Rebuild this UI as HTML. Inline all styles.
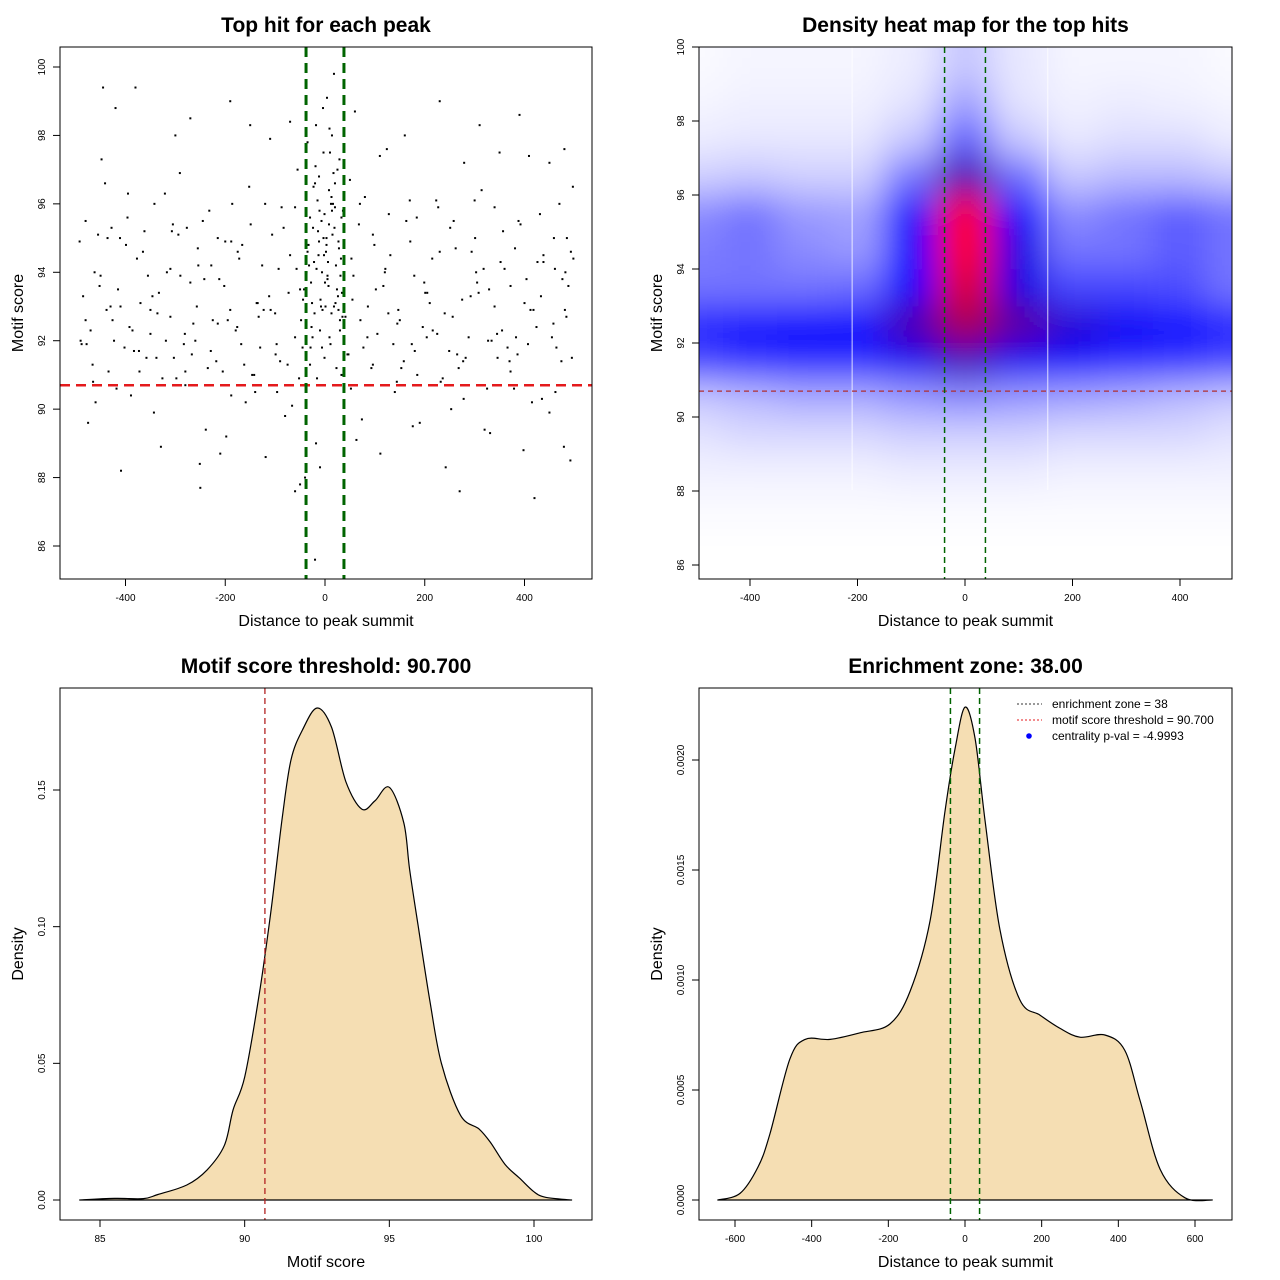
<!DOCTYPE html>
<html><head><meta charset="utf-8"><style>
html,body{margin:0;padding:0;background:#fff;}
svg{display:block;font-family:"Liberation Sans",sans-serif;}
</style></head><body>
<svg id="root" width="1280" height="1280" viewBox="0 0 1280 1280" xmlns="http://www.w3.org/2000/svg">
<defs>
<filter id="blur" x="-20%" y="-20%" width="140%" height="140%"><feGaussianBlur stdDeviation="17"/></filter>
<clipPath id="clip2"><rect x="699" y="47" width="533" height="532"/></clipPath>
</defs>
</svg>
<script>
// ---------- DATA ----------
const scatterX = [-480,-455,-430,-402,-377,-350,-321,-298,-270,-245,-218,-190,-166,-140,-112,-87,-60,-35,-12,5,
22,41,68,93,117,144,171,196,223,249,275,301,327,352,379,404,431,458,482,495,
-492,-466,-441,-415,-389,-362,-336,-310,-283,-257,-232,-205,-179,-152,-126,-99,-73,-48,-24,-3,
14,33,57,80,105,131,158,184,210,236,262,288,314,340,366,392,418,444,470,488,
-475,-448,-423,-396,-370,-343,-317,-291,-264,-239,-212,-186,-159,-133,-106,-80,-55,-30,-8,9,
27,50,74,99,124,150,176,201,227,253,279,305,331,357,383,409,435,461,479,497,
-30,-22,-15,-9,-3,2,8,13,19,25,31,36,-27,-18,-6,4,11,17,28,34,
-35,-25,-12,-1,7,15,23,32,-20,-10,0,10,20,30,-32,-16,-4,6,21,38,
-485,-460,-436,-409,-383,-355,-329,-303,-277,-251,-225,-198,-172,-146,-119,-93,-66,-42,-18,47,
63,86,111,137,163,190,216,242,268,294,320,346,372,398,424,450,474,492,-445,-270,
-420,-380,-300,-190,-150,-110,-70,60,110,160,230,310,350,390,450,480,-250,-210,270,420,
-470,-452,-434,-392,-365,-338,-290,-260,-228,-195,-168,-137,-100,-75,-50,55,85,120,145,180,
205,240,265,292,318,345,370,400,426,455,476,-488,-410,-350,-310,-280,-200,-130,-90,-45,
-480,-428,-395,-342,-305,-255,-215,-175,-120,-60,70,128,170,215,258,300,340,388,438,485,
-465,-418,-372,-326,-280,-235,-188,-142,-96,-52,52,96,140,185,232,278,325,372,415,462,
-20,-50,-10,-40,-60,
-490,-462,-438,-411,-386,-358,-333,-307,-281,-254,-229,-202,-176,-149,-123,-97,-70,-44,-21,3,
18,45,71,96,121,147,174,199,225,251,277,303,329,355,381,407,433,459,484,498,
-478,-450,-426,-399,-373,-346,-319,-294,-267,-242,-215,-188,-162,-135,-109,-83,-57,-28,-6,12,
30,53,77,102,127,153,179,204,230,256,282,308,334,360,386,412,438,464,481,493,
-26,-14,-2,9,16,24,-33,-19,-7,1,13,27,35,-11,5,20,-29,-17,8,29,
-37,-23,-5,3,14,26,33,-13,-1,18];
const scatterY = [92.6,95.1,93.0,91.8,94.4,92.2,96.3,90.9,93.7,95.5,91.4,92.9,94.8,90.5,93.3,95.9,92.1,94.6,96.8,93.9,
94.2,92.7,95.4,91.2,93.6,90.8,94.9,92.4,96.1,91.7,93.2,95.0,92.0,94.3,90.6,93.8,95.7,92.5,94.0,91.5,
94.9,91.3,96.6,93.5,90.4,95.2,92.8,94.1,91.9,93.0,95.8,91.1,92.3,96.5,94.2,91.6,93.4,92.6,95.3,97.5,
95.8,91.0,93.9,96.2,92.2,94.5,91.4,95.6,93.1,90.9,94.7,92.1,96.4,93.0,91.8,95.4,92.9,90.7,96.0,93.6,
89.6,97.3,92.0,95.6,93.1,89.9,94.0,96.9,92.5,89.4,93.8,96.0,90.2,92.7,95.1,89.8,97.0,91.3,93.0,98.2,
92.9,96.7,89.7,94.8,97.6,92.6,89.5,93.4,95.9,90.0,97.2,93.7,89.3,95.2,92.1,97.4,90.3,94.1,88.9,96.5,
95.6,94.3,96.1,93.2,95.0,94.6,96.4,92.8,95.3,97.0,93.9,95.8,92.4,98.3,94.0,99.1,91.9,96.9,94.7,93.4,
97.8,92.1,94.9,95.7,93.6,95.1,91.2,94.4,96.6,92.3,93.7,97.5,95.9,92.6,94.2,90.9,98.8,94.3,93.1,96.2,
93.3,90.2,95.0,88.2,91.7,93.9,88.9,91.5,95.3,88.4,92.6,89.2,94.4,91.0,88.6,94.1,90.1,93.5,89.0,91.6,
89.1,93.0,88.7,91.9,95.5,89.6,92.3,88.3,91.2,94.6,89.4,91.5,93.6,88.8,92.4,89.9,91.4,88.5,99.4,98.5,
98.8,99.4,98.0,99.0,98.3,97.9,98.4,98.7,97.4,98.0,99.0,98.3,97.5,98.6,97.2,97.6,87.7,88.7,87.6,87.4,
92.3,93.6,91.1,92.4,94.6,91.5,93.9,92.0,94.2,92.6,91.9,93.1,92.8,91.3,93.5,93.2,92.1,94.0,92.5,91.7,
93.4,92.8,91.6,93.3,94.1,92.2,91.4,93.1,94.3,92.1,93.8,91.9,93.0,92.9,92.7,91.1,94.9,91.8,91.4,91.8,
95.5,95.3,96.3,96.0,95.4,94.7,95.0,94.6,96.0,95.9,96.0,95.7,96.1,94.4,95.5,96.1,95.9,95.5,94.5,95.0,
90.8,90.6,91.1,90.9,90.7,91.2,90.4,91.0,90.5,90.9,90.6,91.3,90.5,91.0,90.8,90.3,90.6,91.1,90.2,90.5,
85.6,87.8,88.3,88.0,87.6,
92.0,94.0,92.9,95.0,92.3,91.5,93.4,95.2,92.2,94.2,91.7,93.6,92.4,95.4,92.9,91.9,94.5,93.2,92.8,94.8,
93.0,91.6,92.6,95.1,94.1,92.9,91.9,93.7,92.2,95.3,91.4,94.0,93.5,92.3,94.7,91.9,93.3,95.0,92.7,94.4,
91.9,93.9,92.6,94.8,91.7,93.3,92.0,95.1,91.6,93.8,92.5,94.9,91.3,93.1,92.9,95.3,94.1,93.7,91.8,96.0,
92.3,94.4,91.8,93.5,92.8,91.2,93.9,92.1,94.6,92.7,91.5,93.4,92.0,94.1,91.6,92.9,94.3,91.8,92.9,94.6,
93.1,95.2,94.5,92.1,96.0,93.5,94.8,97.1,95.5,93.0,96.2,94.9,92.7,95.8,93.8,96.6,91.8,94.1,95.4,97.3,
94.0,96.5,92.9,95.0,98.0,93.3,95.6,94.5,91.5,99.8];
const heatXBins = [-500,-400,-300,-200,-100,0,100,200,300,400,500];
const heatYBins = [99.5,98.5,97.5,96.5,95.5,94.5,93.5,92.5,91.5,90.5,89.5,88.5,87.5,86.5];
const heatDensity = [
[.01,.02,.02,.02,.04,.12,.05,.02,.02,.02,.01],
[.02,.03,.03,.03,.06,.20,.06,.03,.04,.03,.02],
[.04,.05,.05,.05,.12,.34,.12,.05,.07,.07,.04],
[.10,.12,.10,.10,.30,.64,.32,.12,.15,.15,.12],
[.25,.30,.22,.20,.52,1.0,.55,.25,.30,.35,.30],
[.28,.30,.25,.22,.55,1.0,.58,.30,.30,.35,.30],
[.30,.30,.30,.32,.55,.85,.58,.40,.40,.38,.30],
[.48,.52,.54,.54,.64,.76,.66,.60,.56,.52,.48],
[.40,.44,.46,.46,.56,.62,.56,.52,.46,.44,.40],
[.12,.15,.18,.18,.22,.25,.22,.20,.18,.15,.12],
[.06,.08,.08,.08,.10,.10,.10,.08,.08,.08,.06],
[.03,.03,.03,.03,.04,.04,.04,.03,.03,.03,.03],
[.01,.01,.01,.01,.01,.01,.01,.01,.01,.01,.01],
[0,0,0,0,0,0,0,0,0,0,0]];
const scoreX = [84.3,85.5,86.5,87,88,88.7,89.3,89.6,90,90.5,90.9,91.3,91.6,92,92.5,93,93.5,94.05,94.5,95,95.5,95.7,96,96.4,96.8,97.46,98.1,98.5,99,99.5,100,100.4,101.3];
const scoreD = [0,0.0006,0.0005,0.002,0.0055,0.011,0.02,0.033,0.045,0.075,0.105,0.14,0.161,0.172,0.18,0.173,0.153,0.143,0.146,0.151,0.138,0.121,0.1,0.073,0.05,0.031,0.026,0.021,0.013,0.008,0.003,0.001,0];
const distX = [-645,-587,-540,-509,-457,-417,-352,-274,-196,-143,-91,-52,-26,0,26,52,91,143,196,248,300,365,417,457,509,574,645];
const distD = [0,0.00003,0.00015,0.0003,0.00064,0.00073,0.00073,0.00076,0.0008,0.00095,0.00127,0.00177,0.00205,0.00224,0.0021,0.00173,0.00123,0.00091,0.00084,0.00078,0.00074,0.00075,0.00068,0.00045,0.00014,0.00001,0];
const xTicks1 = [-400,-200,0,200,400];
const yTicks1 = [86,88,90,92,94,96,98,100];
const xTicks3 = [85,90,95,100];
const yTicks3 = [0,0.05,0.10,0.15];
const yTickLabels3 = ["0.00","0.05","0.10","0.15"];
const xTicks4 = [-600,-400,-200,0,200,400,600];
const yTicks4 = [0,0.0005,0.001,0.0015,0.002];
const yTickLabels4 = ["0.0000","0.0005","0.0010","0.0015","0.0020"];
const enrichZone = 38, scoreThreshold = 90.7;

// ---------- HELPERS ----------
const NS = "http://www.w3.org/2000/svg";
const root = document.getElementById('root');
function mk(tag, attrs, parent){const e=document.createElementNS(NS,tag);for(const k in attrs)e.setAttribute(k,attrs[k]);(parent||root).appendChild(e);return e;}
function txt(s, attrs, parent){const e=mk('text',attrs,parent);e.textContent=s;return e;}
function lin(d0,d1,r0,r1){return v=>r0+(v-d0)*(r1-r0)/(d1-d0);}
function smoothPath(P){
  let d='M'+P[0][0].toFixed(1)+','+P[0][1].toFixed(1);
  for(let i=0;i<P.length-1;i++){
    const p0=P[Math.max(0,i-1)],p1=P[i],p2=P[i+1],p3=P[Math.min(P.length-1,i+2)];
    const c1=[p1[0]+(p2[0]-p0[0])/6,p1[1]+(p2[1]-p0[1])/6];
    const c2=[p2[0]-(p3[0]-p1[0])/6,p2[1]-(p3[1]-p1[1])/6];
    d+=` C${c1[0].toFixed(1)},${c1[1].toFixed(1)} ${c2[0].toFixed(1)},${c2[1].toFixed(1)} ${p2[0].toFixed(1)},${p2[1].toFixed(1)}`;
  }
  return d;
}

function axes(g, box, sx, sy, xt, xl, yt, yl, title, xlab, ylab){
  let e;
  e=mk('rect',{x:box.x0,y:box.y0,width:box.x1-box.x0,height:box.y1-box.y0,fill:'none',stroke:'#000','stroke-width':1},g);
  
  
  const xa=mk('g',{},g);
  
  
  mk('line',{x1:sx(xt[0]),x2:sx(xt[xt.length-1]),y1:box.y1,y2:box.y1,stroke:'#000'},xa);
  xt.forEach((v,i)=>{mk('line',{x1:sx(v),x2:sx(v),y1:box.y1,y2:box.y1+7,stroke:'#000'},xa);
    const t=txt(xl[i],{x:sx(v),y:box.y1+22,'font-size':10,'text-anchor':'middle'},xa);
    
    });
  const ya=mk('g',{},g);
  
  
  mk('line',{x1:box.x0,x2:box.x0,y1:sy(yt[0]),y2:sy(yt[yt.length-1]),stroke:'#000'},ya);
  yt.forEach((v,i)=>{mk('line',{x1:box.x0,x2:box.x0-7,y1:sy(v),y2:sy(v),stroke:'#000'},ya);
    const X=box.x0-15,Y=sy(v);
    const t=txt(yl[i],{x:X,y:Y,'font-size':10,'text-anchor':'middle',transform:`rotate(-90 ${X} ${Y})`},ya);
    
    });
  const cx=(box.x0+box.x1)/2;
  e=txt(title,{x:cx,y:box.y0-15,'font-size':21,'font-weight':'bold','text-anchor':'middle'},g);
  
  
  e=txt(xlab,{x:cx,y:box.y1+47,'font-size':16,'text-anchor':'middle'},g);
  
  
  const ly=(box.y0+box.y1)/2,lx=box.x0-37;
  e=txt(ylab,{x:lx,y:ly,'font-size':16,'text-anchor':'middle',transform:`rotate(-90 ${lx} ${ly})`},g);
  
  
}

// ---------- PANEL 1: scatter ----------
{
  const g=mk('g',{});
  
  
  const box={x0:60,x1:592,y0:47,y1:579};
  const sx=lin(0,400,325,524.5), sy=lin(100,86,67,546);
  const pts=mk('g',{},g);
  
  
  for(let i=0;i<Math.min(scatterX.length,scatterY.length);i++){
    const el=mk('rect',{x:sx(scatterX[i])-1,y:sy(scatterY[i])-1,width:2,height:2,fill:'#000'},pts);
    
    
  }
  let e=mk('line',{x1:box.x0,x2:box.x1,y1:sy(scoreThreshold),y2:sy(scoreThreshold),stroke:'#e41a1c','stroke-width':2.5,'stroke-dasharray':'10,6'},g);
  
  
  [-enrichZone,enrichZone].forEach(v=>{const l=mk('line',{x1:sx(v),x2:sx(v),y1:box.y0,y2:box.y1,stroke:'#006400','stroke-width':3,'stroke-dasharray':'10,6'},g);
    
    });
  axes(g,box,sx,sy,xTicks1,xTicks1.map(String),yTicks1,yTicks1.map(String),'Top hit for each peak','Distance to peak summit','Motif score');
}

// ---------- PANEL 2: heatmap ----------
function heatColor(t){
  let r,gg,b;
  if(t<=0.55){const s=t/0.55;r=gg=255*(1-s);b=255;}
  else if(t<=0.7){const s=(t-0.55)/0.15;r=130*s;gg=0;b=255-135*s;}
  else{const s=Math.min(1,(t-0.7)/0.2);r=130+125*s;gg=0;b=120*(1-s);}
  return `rgb(${r|0},${gg|0},${b|0})`;
}
{
  const g=mk('g',{});
  
  
  const box={x0:699,x1:1232,y0:47,y1:579};
  const sx=lin(0,400,965,1180), sy=lin(100,86,47,565);
  const clipG=mk('g',{'clip-path':'url(#clip2)'},g);
  const cells=mk('g',{filter:'url(#blur)'},clipG);
  
  
  const hw=50, hh=0.5;
  for(let r=0;r<heatYBins.length;r++)for(let c=0;c<heatXBins.length;c++){
    let x0=sx(heatXBins[c]-hw), x1=sx(heatXBins[c]+hw), y0=sy(heatYBins[r]+hh), y1=sy(heatYBins[r]-hh);
    if(c===0)x0-=60; if(c===heatXBins.length-1)x1+=60;
    if(r===0)y0-=60; if(r===heatYBins.length-1)y1+=60;
    const el=mk('rect',{x:x0,y:y0,width:x1-x0+0.5,height:y1-y0+0.5,fill:heatColor(heatDensity[r][c])},cells);
    
    
  }
  [-210,154].forEach(v=>{mk('line',{x1:sx(v),x2:sx(v),y1:box.y0,y2:490,stroke:'#fff','stroke-width':1,opacity:0.8},clipG);});
  let e=mk('line',{x1:box.x0,x2:box.x1,y1:sy(scoreThreshold),y2:sy(scoreThreshold),stroke:'#b03030','stroke-width':1.2,'stroke-dasharray':'5,4'},g);
  
  
  [-enrichZone,enrichZone].forEach(v=>{const l=mk('line',{x1:sx(v),x2:sx(v),y1:box.y0,y2:box.y1,stroke:'#006400','stroke-width':1.5,'stroke-dasharray':'6,4'},g);
    
    });
  axes(g,box,sx,sy,xTicks1,xTicks1.map(String),yTicks1,yTicks1.map(String),'Density heat map for the top hits','Distance to peak summit','Motif score');
}

// ---------- PANEL 3: score density ----------
{
  const g=mk('g',{});
  
  
  const box={x0:60,x1:592,y0:688,y1:1220};
  const sx=lin(85,100,100,534), sy=lin(0,0.15,1200,790);
  const P=scoreX.map((v,i)=>[sx(v),sy(scoreD[i])]);
  const d=smoothPath(P)+' Z';
  let e=mk('path',{d:d,fill:'#f5deb3',stroke:'#000','stroke-width':1.2,'stroke-linejoin':'round'},g);
  
  
  e=mk('line',{x1:sx(scoreThreshold),x2:sx(scoreThreshold),y1:box.y0,y2:box.y1,stroke:'#b22222','stroke-width':1.3,'stroke-dasharray':'6,4'},g);
  
  
  axes(g,box,sx,sy,xTicks3,xTicks3.map(String),yTicks3,yTickLabels3,'Motif score threshold: 90.700','Motif score','Density');
}

// ---------- PANEL 4: distance density ----------
{
  const g=mk('g',{});
  
  
  const box={x0:699,x1:1232,y0:688,y1:1220};
  const sx=lin(0,600,965,1195), sy=lin(0,0.002,1200,760);
  const P=distX.map((v,i)=>[sx(v),sy(distD[i])]);
  const d=smoothPath(P)+' Z';
  let e=mk('path',{d:d,fill:'#f5deb3',stroke:'#000','stroke-width':1.2,'stroke-linejoin':'round'},g);
  
  
  [-enrichZone,enrichZone].forEach(v=>{const l=mk('line',{x1:sx(v),x2:sx(v),y1:box.y0,y2:box.y1,stroke:'#006400','stroke-width':1.5,'stroke-dasharray':'6,4'},g);
    
    });
  axes(g,box,sx,sy,xTicks4,xTicks4.map(String),yTicks4,yTickLabels4,'Enrichment zone: 38.00','Distance to peak summit','Density');
  const lg=mk('g',{},g);
  
  
  const items=[['enrichment zone = 38','#333','line'],['motif score threshold = 90.700','#e41a1c','line'],['centrality p-val = -4.9993','#0000ff','dot']];
  items.forEach((it,i)=>{
    const y=704+i*16;
    const eg=mk('g',{},lg);
    
    
    if(it[2]==='line')mk('line',{x1:1017,x2:1042,y1:y,y2:y,stroke:it[1],'stroke-width':1,'stroke-dasharray':'2,2'},eg);
    else mk('circle',{cx:1029,cy:y,r:2.8,fill:it[1]},eg);
    txt(it[0],{x:1052,y:y+4,'font-size':12},eg);
  });
}
</script>
</body></html>
